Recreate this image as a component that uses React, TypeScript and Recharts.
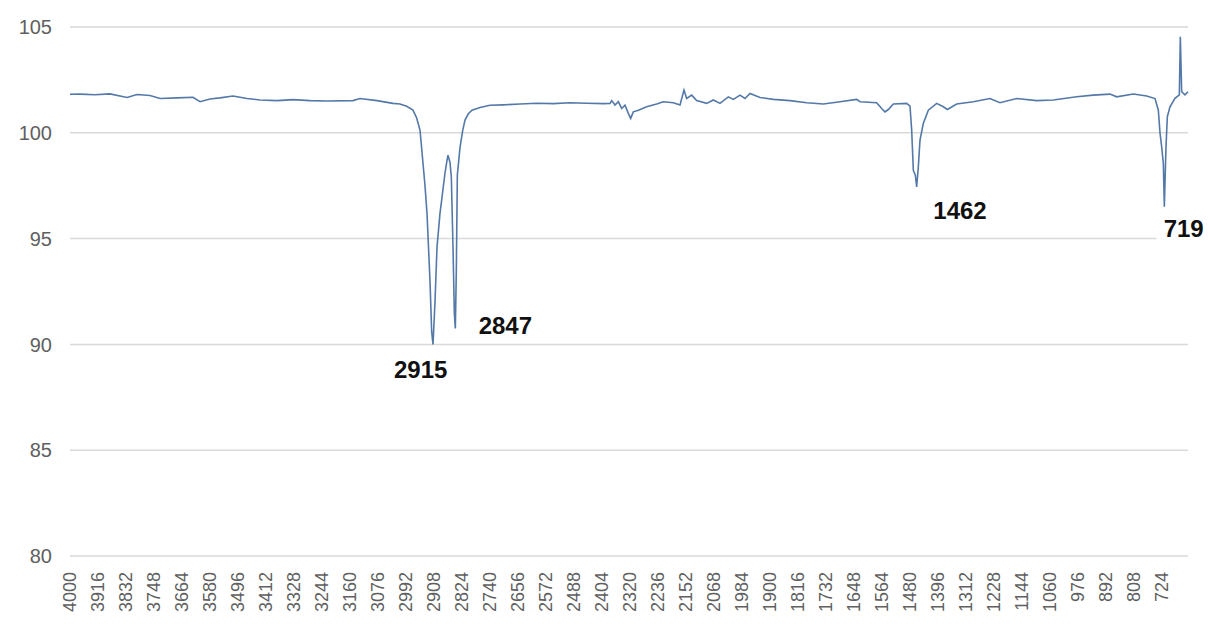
import React from 'react';
import {
  LineChart,
  Line,
  XAxis,
  YAxis,
  CartesianGrid,
  ReferenceDot,
} from 'recharts';

// wavenumber (cm-1), read left to right
const wavenumbers = [
  4000, 3970, 3925, 3880, 3829, 3799, 3760, 3730, 3679, 3631, 3610, 3580, 3550,
  3511, 3469, 3430, 3379, 3331, 3280, 3229, 3151, 3130, 3079, 3031, 3010, 2990,
  2971, 2960, 2950, 2941, 2935, 2929, 2920, 2915, 2911, 2905, 2899, 2890, 2884,
  2875, 2869, 2866, 2860, 2856, 2851, 2847, 2844, 2841, 2838, 2830, 2822, 2815,
  2805, 2794, 2770, 2740, 2700, 2650, 2600, 2550, 2500, 2450, 2400, 2380, 2375,
  2365, 2355, 2345, 2335, 2325, 2318, 2310, 2295, 2270, 2240, 2220, 2190, 2170,
  2158, 2150, 2135, 2120, 2090, 2070, 2050, 2025, 2010, 1990, 1975, 1960, 1930,
  1890, 1840, 1790, 1740, 1690, 1640, 1630, 1580, 1565, 1555, 1545, 1530, 1490,
  1480, 1475, 1470, 1464, 1460, 1455, 1450, 1440, 1425, 1400, 1380, 1368, 1340,
  1290, 1240, 1210, 1160, 1100, 1050, 980, 930, 880, 860, 810, 770, 745, 735,
  730, 725, 720, 717, 712, 708, 700, 685, 672, 669, 665, 655, 646,
];

// transmittance (%)
const transmittance = [
  101.82, 101.83, 101.8, 101.84, 101.67, 101.81, 101.76, 101.62, 101.65, 101.68,
  101.47, 101.6, 101.65, 101.74, 101.62, 101.55, 101.52, 101.57, 101.52, 101.5,
  101.52, 101.62, 101.52, 101.39, 101.36, 101.25, 101.07, 100.7, 100.13, 98.56,
  97.5, 96.2, 93.0, 90.6, 90.0, 92.0, 94.6, 96.2, 96.95, 98.1, 98.7, 98.94, 98.6,
  97.9, 94.6, 91.5, 90.75, 93.5, 98.0, 99.3, 100.1, 100.6, 100.9, 101.07, 101.2,
  101.3, 101.32, 101.36, 101.4, 101.38, 101.42, 101.4, 101.38, 101.39, 101.52,
  101.31, 101.47, 101.15, 101.31, 100.92, 100.68, 100.99, 101.07, 101.23, 101.36,
  101.47, 101.42, 101.31, 102.02, 101.62, 101.78, 101.52, 101.39, 101.55, 101.39,
  101.7, 101.58, 101.78, 101.62, 101.86, 101.67, 101.58, 101.52, 101.42, 101.36,
  101.47, 101.58, 101.47, 101.42, 101.15, 100.99, 101.1, 101.36, 101.39, 101.26,
  100.13, 98.23, 98.0, 97.44, 98.4, 99.66, 100.45, 101.07, 101.39, 101.23, 101.1,
  101.36, 101.47, 101.62, 101.42, 101.62, 101.52, 101.55, 101.7, 101.78, 101.83,
  101.7, 101.83, 101.74, 101.62, 101.07, 100.0, 99.34, 98.56, 96.51, 99.34,
  100.76, 101.23, 101.63, 101.79, 104.54, 101.94, 101.79, 101.94,
];

const xTicks = [
  4000, 3916, 3832, 3748, 3664, 3580, 3496, 3412, 3328, 3244, 3160, 3076, 2992,
  2908, 2824, 2740, 2656, 2572, 2488, 2404, 2320, 2236, 2152, 2068, 1984, 1900,
  1816, 1732, 1648, 1564, 1480, 1396, 1312, 1228, 1144, 1060, 976, 892, 808, 724,
];
const yTicks = [80, 85, 90, 95, 100, 105];

// peak annotations
const peakLabels = ['2915', '2847', '1462', '719'];
const peakWavenumbers = [2915, 2847, 1462, 719];
const peakValues = [90.0, 90.75, 97.44, 96.51];
const peakOffsets = [
  [-11, 25],
  [51, -3],
  [44, 24],
  [20, 22],
];

const data = wavenumbers.map((wn, i) => ({ wn, t: transmittance[i] }));

const FONT = '"Liberation Sans", Arial, sans-serif';

function XTick({ x, y, payload }: any) {
  return (
    <text
      transform={`translate(${x},${y}) rotate(-90)`}
      textAnchor="end"
      dy="0.35em"
      fontSize={18}
      fill="#606060"
      fontFamily={FONT}
    >
      {payload.value}
    </text>
  );
}

function peakLabel(text: string, dx: number, dy: number) {
  return (props: any) => {
    const vb = props.viewBox;
    const cx = vb.x + vb.width / 2 + dx;
    const cy = vb.y + vb.height / 2 + dy;
    const w = text.length * 14 + 12;
    return (
      <g>
        <rect x={cx - w / 2} y={cy - 17} width={w} height={34} fill="#ffffff" />
        <text
          x={cx}
          y={cy}
          textAnchor="middle"
          dominantBaseline="central"
          fontSize={24}
          fontWeight="bold"
          fill="#111111"
          fontFamily={FONT}
        >
          {text}
        </text>
      </g>
    );
  };
}

export default function App() {
  return (
    <div style={{ position: 'absolute', left: 0, top: 0, background: '#fff' }}>
      <LineChart
        width={1208}
        height={628}
        data={data}
        margin={{ top: 27, right: 20, bottom: 0, left: 0 }}
      >
        <CartesianGrid vertical={false} stroke="#d9d9d9" strokeWidth={1.5} />
        <XAxis
          dataKey="wn"
          type="number"
          domain={[646, 4000]}
          reversed
          ticks={xTicks}
          interval={0}
          axisLine={false}
          tickLine={false}
          tickSize={0}
          tickMargin={16}
          height={72}
          tick={<XTick />}
        />
        <YAxis
          type="number"
          domain={[80, 105]}
          ticks={yTicks}
          axisLine={false}
          tickLine={false}
          tickSize={0}
          tickMargin={18}
          width={70}
          tick={{ fontSize: 20, fill: '#606060', fontFamily: FONT }}
        />
        <Line
          type="linear"
          dataKey="t"
          stroke="#5479a8"
          strokeWidth={1.6}
          dot={false}
          isAnimationActive={false}
        />
        {peakLabels.map((lbl, i) => (
          <ReferenceDot
            key={lbl}
            x={peakWavenumbers[i]}
            y={peakValues[i]}
            r={1}
            fill="none"
            stroke="none"
            label={peakLabel(lbl, peakOffsets[i][0], peakOffsets[i][1])}
          />
        ))}
      </LineChart>
    </div>
  );
}
